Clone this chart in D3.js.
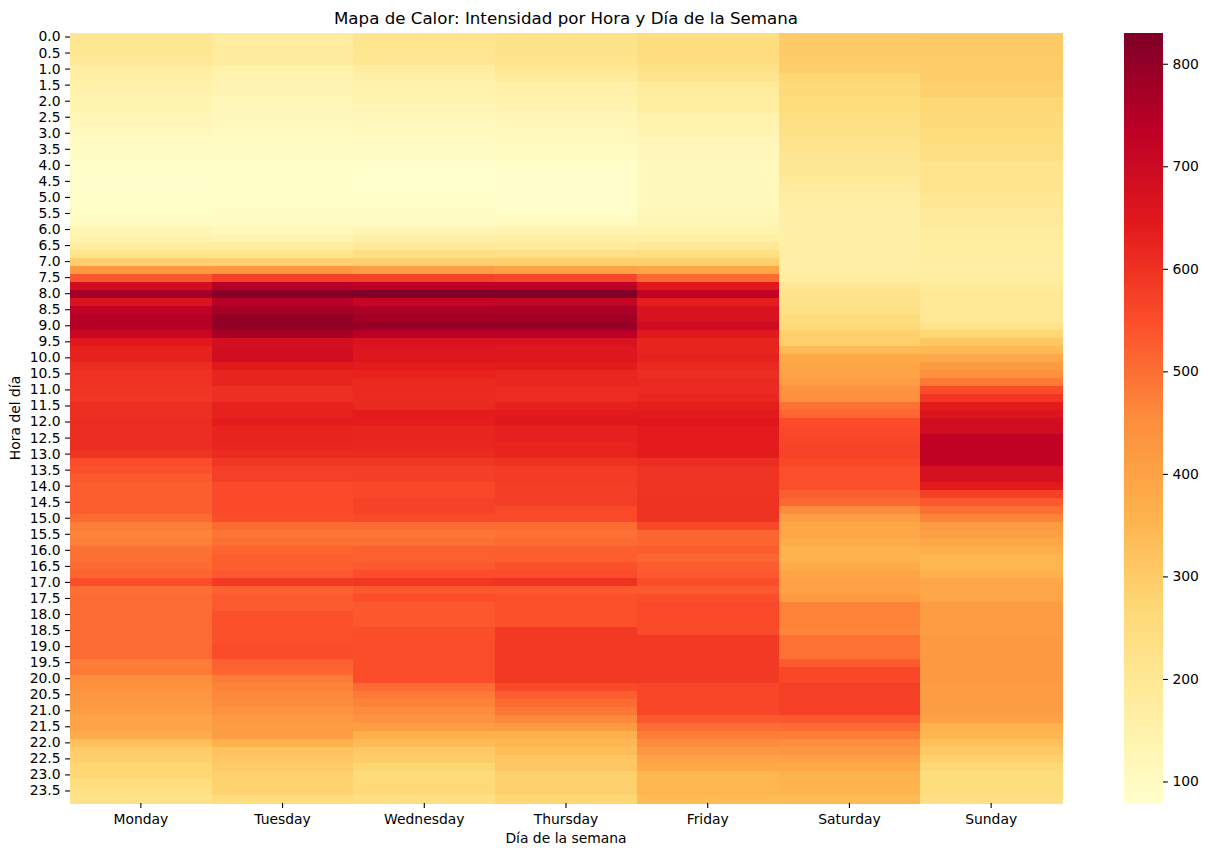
<!DOCTYPE html>
<html>
<head>
<meta charset="utf-8">
<script src="https://cdn.jsdelivr.net/npm/d3@7/dist/d3.min.js"></script>
<style>
html,body{margin:0;padding:0;background:#fff}
svg{display:block}
text{font-family:"DejaVu Sans",sans-serif;fill:#000}
</style>
</head>
<body>
<svg id="chart" width="1208" height="856"></svg>
<script>
const days = ["Monday","Tuesday","Wednesday","Thursday","Friday","Saturday","Sunday"];
const hourTicks = d3.range(0,24,0.5);
const monday = [205,206,205,190,170,165,152,148,138,134,124,120,108,98,94,92,86,84,82,84,86,88,92,98,125,140,170,215,290,430,535,690,770,665,730,745,745,710,650,630,630,610,600,600,595,590,605,605,610,608,608,608,595,553,545,532,525,525,525,525,505,478,468,475,495,498,505,515,550,500,505,505,505,505,505,505,505,505,480,485,452,440,432,425,412,398,395,375,325,295,285,272,268,248,228,222];
const tuesday = [180,180,180,178,148,143,135,132,122,120,116,114,104,102,98,96,88,86,86,86,88,90,94,97,115,135,170,215,285,430,575,745,820,740,770,800,800,770,680,690,690,645,625,625,605,605,630,630,640,625,625,620,612,590,575,575,555,555,555,555,550,505,490,497,515,525,525,535,585,520,530,530,545,545,545,545,552,552,520,515,480,470,460,455,440,425,415,415,360,320,310,300,285,282,282,250];
const wednesday = [210,212,208,205,170,158,145,142,134,127,120,110,108,98,96,92,82,79,80,80,84,90,94,100,130,155,185,235,290,415,570,736,830,715,760,775,795,740,668,660,658,640,628,615,615,612,615,640,635,622,622,618,615,590,578,575,560,560,570,570,558,505,490,497,522,522,530,550,590,535,550,535,535,535,548,550,550,550,550,550,550,505,482,470,455,440,415,365,340,305,295,275,255,262,262,235];
const thursday = [220,222,220,215,200,182,157,150,142,134,128,122,112,108,102,96,86,84,82,82,82,84,92,102,135,158,182,232,290,400,563,736,828,718,760,775,795,740,670,655,655,640,622,618,610,610,630,642,650,632,632,625,625,600,582,582,578,578,578,558,558,505,495,505,525,525,545,552,598,535,545,545,545,545,587,587,587,587,587,587,587,557,525,505,488,460,425,365,345,335,315,312,285,285,285,272];
const friday = [245,250,248,245,225,215,188,178,172,170,148,143,134,124,120,118,118,118,118,118,118,118,122,128,140,155,190,235,290,390,505,650,728,635,670,670,695,645,625,625,632,615,608,615,612,618,635,642,652,640,640,640,640,608,595,595,595,595,597,597,597,560,512,512,528,512,528,530,550,530,550,558,558,558,555,587,587,587,587,587,587,562,562,562,562,535,500,480,455,428,395,385,350,350,350,338];
const saturday = [300,300,300,298,290,272,262,262,250,250,238,228,228,215,215,205,198,198,185,178,170,165,156,156,156,158,158,162,166,156,172,198,222,222,232,250,258,290,290,338,385,390,395,412,440,445,495,512,553,557,562,568,568,560,548,548,548,525,510,455,412,388,392,378,358,358,378,390,402,402,418,470,470,470,465,495,495,495,530,560,560,575,575,575,575,535,505,480,450,432,405,385,360,358,355,342];
const sunday = [302,302,302,295,295,295,285,285,268,268,258,258,250,250,238,238,215,215,215,215,202,202,185,185,175,175,172,170,168,166,170,182,192,192,192,192,215,268,310,342,385,418,445,485,552,590,640,658,690,690,725,725,725,725,675,675,642,575,535,500,470,420,410,388,372,352,352,360,392,392,392,415,415,415,415,425,425,425,425,425,425,415,415,415,415,405,358,350,325,305,285,270,250,250,250,228];
const series = [monday,tuesday,wednesday,thursday,friday,saturday,sunday];
const colorStops = ["#ffffcc","#ffeda0","#fed976","#feb24c","#fd8d3c","#fc4e2a","#e31a1c","#bd0026","#800026"];
const cbTicks = [100,200,300,400,500,600,700,800];

const svg = d3.select("#chart");
const m = {left:70,right:1062,top:33,bottom:803};
const cb = {left:1124,right:1163};
const fs = 13.9;

const allVals = series.flat();
const [vmin,vmax] = d3.extent(allVals);
const color = d3.scaleLinear()
  .domain(colorStops.map((c,i)=>vmin+(vmax-vmin)*i/(colorStops.length-1)))
  .range(colorStops).interpolate(d3.interpolateRgb).clamp(true);

const rowIdx = d3.range(monday.length);
const x = d3.scaleBand().domain(days).range([m.left,m.right]).padding(0);
const y = d3.scaleBand().domain(rowIdx).range([m.top,m.bottom]).padding(0);

const cells = series.flatMap((vals,d)=>vals.map((v,r)=>({day:days[d],row:r,v})));
svg.append("g").attr("shape-rendering","crispEdges")
  .selectAll("rect").data(cells).join("rect")
  .attr("x",d=>x(d.day)).attr("y",d=>y(d.row))
  .attr("width",x.bandwidth()+0.5).attr("height",y.bandwidth()+0.5)
  .attr("fill",d=>color(d.v));

// y axis: a tick on every second row, labelled in half hours
const yAxis = d3.axisLeft(y)
  .tickValues(rowIdx.filter(r=>r%2===0))
  .tickFormat(r=>hourTicks[r/2].toFixed(1))
  .tickSize(4.9).tickPadding(4.5);
const gy = svg.append("g").attr("transform",`translate(${m.left},0)`).call(yAxis);
const xAxis = d3.axisBottom(x).tickSize(4.9).tickPadding(6.2);
const gx = svg.append("g").attr("transform",`translate(0,${m.bottom})`).call(xAxis);

// colourbar: contiguous bands between vmin and vmax
const cbScale = d3.scaleLinear().domain([vmin,vmax]).range([m.bottom,m.top]);
const cbN = 256;
const cbStep = (vmax-vmin)/cbN;
const cbVals = d3.range(0,cbN).map(i=>vmin+cbStep*i);
svg.append("g").attr("shape-rendering","crispEdges")
  .selectAll("rect").data(cbVals).join("rect")
  .attr("x",cb.left).attr("width",cb.right-cb.left)
  .attr("y",d=>cbScale(d+cbStep)).attr("height",d=>cbScale(d)-cbScale(d+cbStep)+0.5)
  .attr("fill",d=>color(d+cbStep/2));
const cbAxis = d3.axisRight(cbScale).tickValues(cbTicks).tickSize(4.9).tickPadding(4.5);
const gc = svg.append("g").attr("transform",`translate(${cb.right},0)`).call(cbAxis);

[gx,gy,gc].forEach(g=>{
  g.select(".domain").remove();
  g.selectAll("line").attr("stroke","#000").attr("stroke-width",1.1);
  g.selectAll("text").attr("font-size",fs).attr("font-family","DejaVu Sans, sans-serif").attr("fill","#000");
});

svg.append("text").attr("x",566).attr("y",23.5).attr("text-anchor","middle")
  .attr("font-size",16.67).text("Mapa de Calor: Intensidad por Hora y Día de la Semana");
svg.append("text").attr("x",566).attr("y",843).attr("text-anchor","middle")
  .attr("font-size",fs).text("Día de la semana");
svg.append("text").attr("transform",`translate(20,418) rotate(-90)`).attr("text-anchor","middle")
  .attr("font-size",fs).text("Hora del día");
</script>
</body>
</html>
